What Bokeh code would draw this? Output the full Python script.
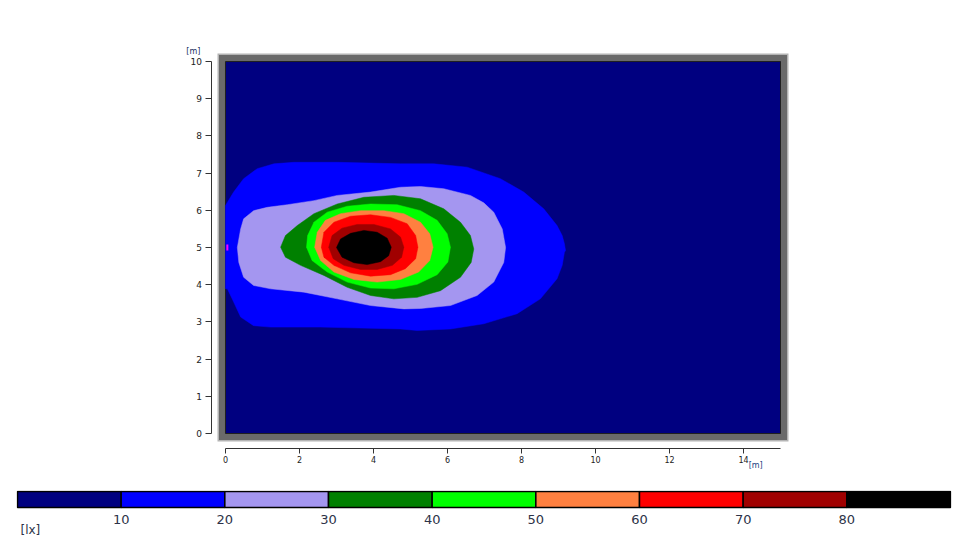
from bokeh.plotting import figure
from bokeh.layouts import column
from bokeh.models import Range1d, FixedTicker, Label
from bokeh.embed import file_html
from bokeh.resources import INLINE

# ---------------- data ----------------
ROOM_X = 15.0   # [m]
ROOM_Y = 10.0   # [m]
X_TICKS = [0, 2, 4, 6, 8, 10, 12, 14]
Y_TICKS = [0, 1, 2, 3, 4, 5, 6, 7, 8, 9, 10]

LEVEL_EDGES = [0, 10, 20, 30, 40, 50, 60, 70, 80, 90]
LEVEL_TICKS = [10, 20, 30, 40, 50, 60, 70, 80]
LEVEL_COLORS = ["#000080", "#0000FF", "#A496F0", "#008000", "#00FF00",
                "#FF8040", "#FF0000", "#A00000", "#000000"]

# isolux boundaries [m]
iso10_x = [0.0, 0.0, 0.22, 0.49, 0.86, 1.31, 1.85, 3.02, 4.73, 5.63, 6.53, 7.43,
           8.06, 8.60, 8.96, 9.10, 9.16, 9.19, 9.16, 9.10, 8.96, 8.51, 7.88, 6.98,
           6.08, 5.18, 4.73, 2.57, 1.22, 0.76, 0.41, 0.18, 0.05, 0.0]
iso10_y = [3.89, 6.13, 6.49, 6.85, 7.12, 7.25, 7.29, 7.29, 7.25, 7.25, 7.16, 6.85,
           6.49, 6.04, 5.59, 5.32, 5.10, 4.92, 4.87, 4.52, 4.16, 3.62, 3.22, 2.95,
           2.81, 2.77, 2.81, 2.86, 2.86, 2.90, 3.13, 3.62, 3.89, 3.89]

iso20_x = [0.32, 0.41, 0.49, 0.76, 1.13, 1.67, 2.39, 3.02, 3.92, 4.73, 5.27, 5.90,
           6.62, 6.98, 7.25, 7.48, 7.57, 7.52, 7.25, 6.80, 6.08, 5.27, 4.82,
           3.92, 3.02, 2.12, 1.22, 0.76, 0.49, 0.36]
iso20_y = [5.00, 5.50, 5.77, 5.99, 6.08, 6.15, 6.26, 6.40, 6.49, 6.62, 6.64, 6.58,
           6.40, 6.20, 5.95, 5.50, 5.00, 4.60, 4.07, 3.71, 3.44, 3.36, 3.35,
           3.44, 3.62, 3.80, 3.89, 3.98, 4.20, 4.60]

iso30_x = [1.49, 1.62, 1.94, 2.39, 3.02, 3.74, 4.55, 5.27, 5.90, 6.35, 6.62, 6.71,
           6.64, 6.35, 5.81, 5.18, 4.55, 3.92, 3.29, 2.66, 2.03, 1.62]
iso30_y = [5.01, 5.32, 5.59, 5.91, 6.17, 6.35, 6.40, 6.31, 6.04, 5.68, 5.32, 4.96,
           4.60, 4.20, 3.84, 3.66, 3.62, 3.71, 3.93, 4.25, 4.52, 4.74]

iso40_x = [2.19, 2.22, 2.39, 2.75, 3.29, 3.92, 4.64, 5.27, 5.72, 5.99, 6.08, 6.01,
           5.72, 5.18, 4.55, 3.92, 3.29, 2.75, 2.34]
iso40_y = [5.01, 5.32, 5.68, 5.95, 6.11, 6.17, 6.15, 5.99, 5.73, 5.37, 5.01, 4.61,
           4.27, 4.01, 3.89, 3.91, 4.07, 4.34, 4.65]

iso50_x = [2.41, 2.48, 2.70, 3.11, 3.65, 4.28, 4.82, 5.27, 5.52, 5.61, 5.52, 5.22,
           4.73, 4.10, 3.47, 2.93, 2.57]
iso50_y = [5.01, 5.41, 5.73, 5.91, 5.99, 5.99, 5.91, 5.68, 5.37, 5.01, 4.65, 4.34,
           4.14, 4.07, 4.14, 4.34, 4.65]

iso60_x = [2.59, 2.66, 2.93, 3.38, 3.92, 4.46, 4.91, 5.14, 5.20, 5.14, 4.86, 4.46,
           3.92, 3.38, 2.93, 2.66]
iso60_y = [5.01, 5.41, 5.68, 5.84, 5.88, 5.81, 5.64, 5.32, 5.01, 4.70, 4.43, 4.27,
           4.23, 4.32, 4.52, 4.74]

iso70_x = [2.79, 2.88, 3.15, 3.56, 4.01, 4.46, 4.73, 4.82, 4.76, 4.51, 4.10, 3.65,
           3.20, 2.91]
iso70_y = [5.01, 5.32, 5.52, 5.62, 5.62, 5.50, 5.28, 5.01, 4.74, 4.52, 4.41, 4.41,
           4.52, 4.70]

iso80_x = [3.00, 3.11, 3.38, 3.74, 4.10, 4.37, 4.48, 4.41, 4.19, 3.83, 3.47, 3.15]
iso80_y = [5.00, 5.23, 5.38, 5.46, 5.41, 5.25, 5.01, 4.78, 4.62, 4.54, 4.59, 4.74]

LUMINAIRE_X = [0.05]
LUMINAIRE_Y = [5.0]

FONT = "DejaVu Sans"

# ---------------- main plot ----------------
W = 966
p = figure(width=W, height=478, output_backend="svg", toolbar_location=None,
           x_range=Range1d(-5.6486, 19.6216), y_range=Range1d(-1.2097, 10.565),
           min_border_left=16, min_border_right=15, min_border_top=40,
           min_border_bottom=0)
p.outline_line_color = None
p.xgrid.visible = False
p.ygrid.visible = False
p.background_fill_color = "white"
p.border_fill_color = "white"

# frame around the room
p.rect(x=[ROOM_X / 2], y=[ROOM_Y / 2], width=ROOM_X, height=ROOM_Y,
       fill_color=None, line_color="#b4b4b4", line_width=16, line_join="miter")
p.rect(x=[ROOM_X / 2], y=[ROOM_Y / 2], width=ROOM_X, height=ROOM_Y,
       fill_color=None, line_color="#6a6a6a", line_width=13, line_join="miter")
p.quad(left=[0], right=[ROOM_X], bottom=[0], top=[ROOM_Y],
       fill_color=LEVEL_COLORS[0], line_color="#202020", line_width=1)

p.patches(xs=[iso10_x, iso20_x, iso30_x, iso40_x, iso50_x, iso60_x, iso70_x, iso80_x],
          ys=[iso10_y, iso20_y, iso30_y, iso40_y, iso50_y, iso60_y, iso70_y, iso80_y],
          fill_color=LEVEL_COLORS[1:], line_color=LEVEL_COLORS[1:], line_width=0.5)

p.rect(x=LUMINAIRE_X, y=LUMINAIRE_Y, width=2, height=6, width_units="screen",
       height_units="screen", fill_color="#FF00FF", line_color=None)

for ax in p.xaxis:
    ax.fixed_location = -0.39
    ax.ticker = FixedTicker(ticks=X_TICKS)
    ax.bounds = (0, ROOM_X)
    ax.axis_line_color = "#333333"
    ax.major_tick_line_color = "#333333"
    ax.major_tick_out = 5
    ax.major_tick_in = 0
    ax.minor_tick_line_color = None
    ax.major_label_standoff = 3
    ax.major_label_text_font = FONT
    ax.major_label_text_font_size = "8px"
    ax.major_label_text_color = "#222222"

for ax in p.yaxis:
    ax.fixed_location = -0.365
    ax.ticker = FixedTicker(ticks=Y_TICKS)
    ax.bounds = (0, ROOM_Y)
    ax.axis_line_color = "#333333"
    ax.major_tick_line_color = "#333333"
    ax.major_tick_out = 6
    ax.major_tick_in = 0
    ax.minor_tick_line_color = None
    ax.major_label_standoff = 4
    ax.major_label_text_font = FONT
    ax.major_label_text_font_size = "9px"
    ax.major_label_text_color = "#222222"

p.add_layout(Label(x=-0.68, y=10.27, text="[m]", text_align="right",
                   text_baseline="middle", text_font=FONT, text_font_size="8px",
                   text_color="#203060"))
p.add_layout(Label(x=14.14, y=-0.86, text="[m]", text_align="left",
                   text_baseline="middle", text_font=FONT, text_font_size="8px",
                   text_color="#204080"))

# ---------------- colour scale ----------------
cb = figure(width=W, height=61, output_backend="svg", toolbar_location=None,
            x_range=Range1d(-0.0965, 90.0965), y_range=Range1d(-2.0, 1.0625),
            min_border_left=16, min_border_right=15, min_border_top=12,
            min_border_bottom=0)
cb.outline_line_color = None
cb.xgrid.visible = False
cb.ygrid.visible = False
cb.yaxis.visible = False
cb.quad(left=LEVEL_EDGES[:-1], right=LEVEL_EDGES[1:], bottom=0, top=1,
        fill_color=LEVEL_COLORS, line_color="#000000", line_width=1.5)
xa = cb.xaxis[0]
xa.fixed_location = 0
xa.ticker = FixedTicker(ticks=LEVEL_TICKS)
xa.axis_line_color = None
xa.major_tick_line_color = None
xa.minor_tick_line_color = None
xa.major_tick_out = 0
xa.major_tick_in = 0
xa.major_label_standoff = 7
xa.major_label_text_font = FONT
xa.major_label_text_font_size = "13px"
xa.major_label_text_color = "#2d3348"
cb.add_layout(Label(x=0.29, y=-1.375, text="[lx]", text_align="left",
                    text_baseline="middle", text_font=FONT, text_font_size="12px",
                    text_color="#2d3348"))

layout = column(p, cb, spacing=0)
open("out.html", "w").write(file_html(layout, INLINE))
